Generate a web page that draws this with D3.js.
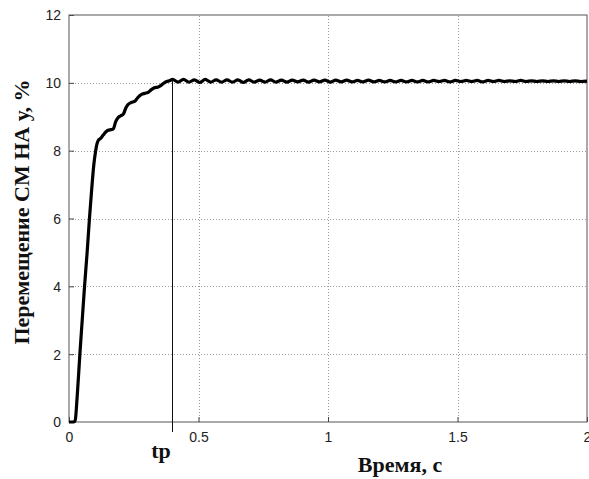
<!DOCTYPE html>
<html>
<head>
<meta charset="utf-8">
<script src="https://cdn.jsdelivr.net/npm/d3@7"></script>
<style>
  body { margin: 0; background: #fff; }
  svg { display: block; }
</style>
</head>
<body>
<svg id="canvas"></svg>
<script>
// rise part of the response
let riseTimes  = [0, 0.018, 0.024, 0.032, 0.042, 0.051, 0.06, 0.07, 0.079, 0.088, 0.096, 0.103, 0.108, 0.113,
                  0.122, 0.132, 0.142, 0.151, 0.162, 0.171, 0.18, 0.19, 0.2, 0.21, 0.219, 0.228, 0.24, 0.255,
                  0.265, 0.28, 0.292, 0.306, 0.318, 0.332, 0.342, 0.351, 0.364, 0.377, 0.388]
let riseValues = [0, 0, 0.05, 0.8, 2.0, 3.0, 4.0, 5.0, 6.0, 6.9, 7.6, 8.0, 8.2, 8.3,
                  8.36, 8.46, 8.55, 8.6, 8.62, 8.64, 8.85, 8.98, 9.03, 9.08, 9.25, 9.36, 9.42, 9.46,
                  9.56, 9.66, 9.69, 9.72, 9.8, 9.86, 9.87, 9.9, 9.98, 10.04, 10.06]

// settled part: ripple sampled every half period from t = 0.40
let settleStart = 0.40
let settleStep = 0.021
let settleValues = [10.1, 10.02, 10.1, 10.02, 10.09, 10.01, 10.1, 10.02, 10.09, 10.02,
                    10.09, 10.02, 10.09, 10.01, 10.09, 10.02, 10.08, 10.02, 10.09, 10.02,
                    10.08, 10.02, 10.08, 10.03, 10.08, 10.02, 10.08, 10.03, 10.08, 10.02,
                    10.08, 10.03, 10.08, 10.03, 10.07, 10.03, 10.08, 10.03, 10.07, 10.03,
                    10.07, 10.03, 10.07, 10.03, 10.07, 10.03, 10.07, 10.03, 10.07, 10.04,
                    10.07, 10.03, 10.07, 10.04, 10.07, 10.04, 10.07, 10.03, 10.07, 10.04,
                    10.07, 10.04, 10.06, 10.04, 10.07, 10.04, 10.06, 10.04, 10.06, 10.04,
                    10.06, 10.04, 10.06, 10.04, 10.06, 10.04, 10.05]

let xTicks = [0, 0.5, 1, 1.5, 2]
let xTickLabels = ['0', '0.5', '1', '1.5', '2']
let yTicks = [0, 2, 4, 6, 8, 10, 12]

let tp = 0.396
let tpTop = 10.1

let width = 589
let height = 479
let margin = {left: 69, right: 2, top: 15, bottom: 57}

let canvas = d3.select('#canvas')
canvas.attr('width', width).attr('height', height)

let xScale = d3.scaleLinear().domain([0, 2]).range([margin.left, width - margin.right])
let yScale = d3.scaleLinear().domain([0, 12]).range([height - margin.bottom, margin.top])

let points = riseTimes.map((t, i) => [t, riseValues[i]])
settleValues.forEach((v, i) => points.push([settleStart + i * settleStep, v]))
points[points.length - 1][0] = 2

let drawGrid = () => {
    let g = canvas.append('g').attr('stroke', '#9a9a9a').attr('stroke-width', 1)
                  .attr('stroke-dasharray', '1,2')
    g.selectAll('.gx').data(xTicks.slice(1, -1)).enter().append('line')
     .attr('x1', d => Math.round(xScale(d)) + 0.5).attr('x2', d => Math.round(xScale(d)) + 0.5)
     .attr('y1', yScale(0)).attr('y2', yScale(12))
    g.selectAll('.gy').data(yTicks.slice(1, -1)).enter().append('line')
     .attr('y1', d => Math.round(yScale(d)) + 0.5).attr('y2', d => Math.round(yScale(d)) + 0.5)
     .attr('x1', xScale(0)).attr('x2', xScale(2))
}

let drawAxes = () => {
    let xAxis = d3.axisBottom(xScale).tickValues(xTicks)
                  .tickFormat((d, i) => xTickLabels[i]).tickSizeInner(-5).tickSizeOuter(0).tickPadding(10)
    let yAxis = d3.axisLeft(yScale).tickValues(yTicks).tickSizeInner(-5).tickSizeOuter(0).tickPadding(8)

    let gx = canvas.append('g').attr('transform', 'translate(0,' + (height - margin.bottom) + ')').call(xAxis)
    let gy = canvas.append('g').attr('transform', 'translate(' + margin.left + ',0)').call(yAxis)
    for (let g of [gx, gy]) {
        g.select('.domain').remove()
        g.selectAll('text').attr('font-family', 'Liberation Sans, Arial, sans-serif')
         .attr('font-size', 14).attr('fill', '#222')
        g.selectAll('line').attr('stroke', '#444')
    }
    gy.selectAll('text').attr('dy', '0.35em')

    canvas.append('rect')
          .attr('x', xScale(0)).attr('y', yScale(12))
          .attr('width', xScale(2) - xScale(0)).attr('height', yScale(0) - yScale(12))
          .attr('fill', 'none').attr('stroke', '#555').attr('stroke-width', 1)
}

let drawCurve = () => {
    let line = d3.line().x(d => xScale(d[0])).y(d => yScale(d[1])).curve(d3.curveMonotoneX)
    canvas.append('path').datum(points)
          .attr('d', line).attr('fill', 'none')
          .attr('stroke', '#000').attr('stroke-width', 3.2).attr('stroke-linejoin', 'round')

    canvas.append('line')
          .attr('x1', Math.round(xScale(tp)) + 0.5).attr('x2', Math.round(xScale(tp)) + 0.5)
          .attr('y1', yScale(tpTop)).attr('y2', yScale(0) + 10)
          .attr('stroke', '#111').attr('stroke-width', 1)
}

let drawLabels = () => {
    let serif = 'Liberation Serif, Times New Roman, serif'
    canvas.append('text').text('tp')
          .attr('x', 161).attr('y', 458)
          .attr('text-anchor', 'middle').attr('font-family', serif)
          .attr('font-weight', 'bold').attr('font-size', 22).attr('fill', '#111')
    canvas.append('text').text('Время, с')
          .attr('x', 400).attr('y', 472)
          .attr('text-anchor', 'middle').attr('font-family', serif)
          .attr('font-weight', 'bold').attr('font-size', 22).attr('fill', '#111')
    canvas.append('text').text('Перемещение СМ НА у, %')
          .attr('transform', 'translate(29,212) rotate(-90)')
          .attr('text-anchor', 'middle').attr('font-family', serif)
          .attr('font-weight', 'bold').attr('font-size', 22).attr('fill', '#111')
}

drawGrid()
drawAxes()
drawCurve()
drawLabels()
</script>
</body>
</html>
